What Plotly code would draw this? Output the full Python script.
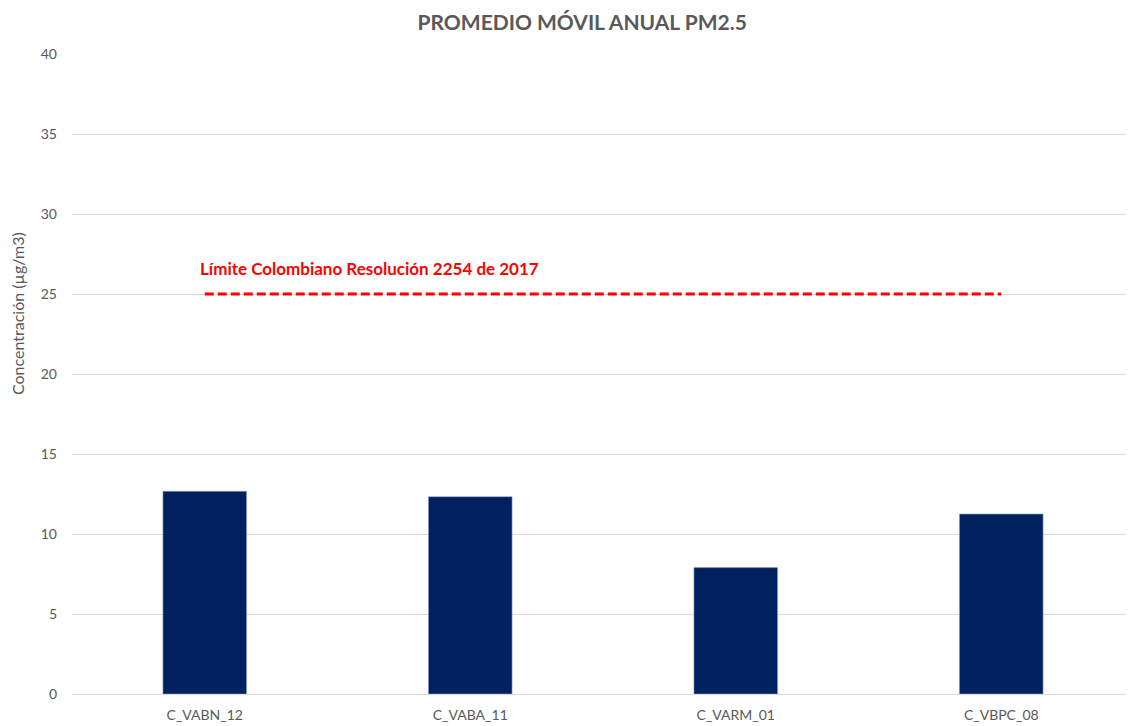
import plotly.graph_objects as go

estaciones = ["C_VABN_12", "C_VABA_11", "C_VARM_01", "C_VBPC_08"]
pm25 = [12.67, 12.33, 7.9, 11.25]
limite = 25
limite_texto = "Límite Colombiano Resolución 2254 de 2017"
y_ticks = [0, 5, 10, 15, 20, 25, 30, 35, 40]

gris = "#595959"
fuente = "Lato"

fig = go.Figure()
fig.add_trace(go.Bar(x=estaciones, y=pm25, marker=dict(color="#002060", line=dict(color="#8ea2c8", width=0.6)),
                     width=0.315, showlegend=False))
fig.add_trace(go.Scatter(x=[estaciones[0], estaciones[-1]], y=[limite, limite], mode="lines",
                         line=dict(color="#ff0000", width=3, dash="9px,4px"), showlegend=False))

fig.add_annotation(x=0.119, xref="paper", y=26.6, yref="y", text="<b>" + limite_texto + "</b>",
                   showarrow=False, xanchor="left", font=dict(family=fuente, size=17, color="#ff0000"))

# titulo del eje y como anotacion (no esta centrado en el area)
fig.add_annotation(x=-0.052, xref="paper", y=23.8, yref="y", text="Concentración (µg/m3)", textangle=-90,
                   showarrow=False, xanchor="center", yanchor="middle",
                   font=dict(family=fuente, size=16, color=gris))

# la pagina tiene 8px de margen en el body
fig.update_layout(
    width=1126, height=718,
    margin=dict(l=64, r=0, t=46, b=32),
    plot_bgcolor="white", paper_bgcolor="white",
    title=dict(text="<b>PROMEDIO MÓVIL ANUAL PM2.5</b>", x=0.51, xanchor="center", y=0.98, yanchor="middle",
               font=dict(family=fuente, size=21, color=gris)),
    font=dict(family=fuente, color=gris, size=14),
)
fig.update_xaxes(showgrid=False, showline=True, linecolor="#d9d9d9", linewidth=1, ticks="",
                 ticklabelstandoff=8, tickfont=dict(size=14, color=gris))
fig.update_yaxes(range=[0, 40], tickvals=y_ticks, showgrid=True, gridcolor="#d9d9d9", gridwidth=1,
                 zeroline=False, ticks="", ticklabelstandoff=14,
                 tickfont=dict(size=14, color=gris))

fig.write_html("out.html")
